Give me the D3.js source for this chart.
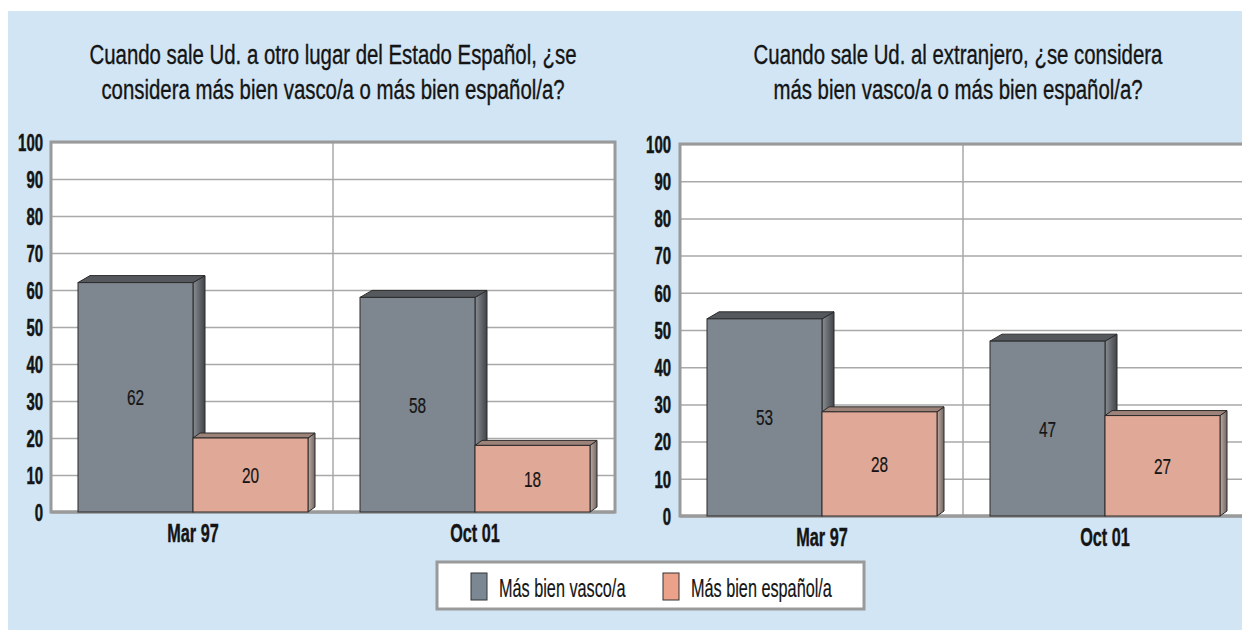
<!DOCTYPE html>
<html>
<head>
<meta charset="utf-8">
<script src="https://cdn.jsdelivr.net/npm/d3@7"></script>
<style>
  html, body { margin: 0; padding: 0; background: #ffffff; }
  svg { display: block; }
  text { font-family: "Liberation Sans", Arial, sans-serif; fill: #141414; }
</style>
</head>
<body>
<svg id="chart" width="1242" height="630"></svg>
<script>
// ---- data ----
const categories = ["Mar 97", "Oct 01"];
const seriesNames = ["Más bien vasco/a", "Más bien español/a"];
const chart1Title = ["Cuando sale Ud. a otro lugar del Estado Español, ¿se", "considera más bien vasco/a o más bien español/a?"];
const chart2Title = ["Cuando sale Ud. al extranjero, ¿se considera", "más bien vasco/a o más bien español/a?"];
const chart1Vasco = [62, 58];
const chart1Espanol = [20, 18];
const chart2Vasco = [53, 47];
const chart2Espanol = [28, 27];
const yTicks = [0, 10, 20, 30, 40, 50, 60, 70, 80, 90, 100];

// ---- styles ----
const colors = {
  front: ["#7e868f", "#dfa897"],
  sideA: ["#8a8f95", "#c2aca4"],
  sideB: ["#404347", "#6f6764"],
  top: ["#55595e", "#9c8279"],
  swatch: ["#7b8893", "#eca18b"]
};
const depth = [{dx: 12, dy: 7}, {dx: 7, dy: 5}];

const svg = d3.select("#chart");
const defs = svg.append("defs");
[0, 1].forEach(i => {
  const g = defs.append("linearGradient").attr("id", "side" + i)
    .attr("x1", "0").attr("x2", "1").attr("y1", "0").attr("y2", "0");
  g.append("stop").attr("offset", "0").attr("stop-color", colors.sideA[i]);
  g.append("stop").attr("offset", "1").attr("stop-color", colors.sideB[i]);
});

svg.append("rect").attr("x", 8).attr("y", 11).attr("width", 1234).attr("height", 619).attr("fill", "#d1e5f4");

function sText(parent, x, y, str, size, weight, anchor, sx, sw) {
  const g = parent.append("g").attr("transform", `translate(${x},${y})`);
  const t = g.append("text").attr("transform", `scale(${sx},1)`)
    .attr("text-anchor", anchor || "middle")
    .style("font-size", size + "px").style("font-weight", weight || "normal")
    .text(str);
  if (sw) t.attr("stroke", "#141414").attr("stroke-width", sw);
  return g;
}

function drawChart(cfg) {
  const g = svg.append("g");
  const x = d3.scaleBand().domain(categories).range([cfg.x0, cfg.x1]).paddingInner(0).paddingOuter(0);
  const inner = d3.scaleBand().domain(seriesNames).range([27, 257]).padding(0);
  const y = d3.scaleLinear().domain([0, 100]).range([cfg.yBottom, cfg.yTop]);

  // title
  cfg.title.forEach((line, i) => sText(g, cfg.titleX, 64 + i * 35, line, 27, "normal", "middle", 0.755, 0.35));

  // plot background
  g.append("rect").attr("x", cfg.x0).attr("y", y(100)).attr("width", cfg.x1 - cfg.x0)
    .attr("height", y(0) - y(100)).attr("fill", "#ffffff");

  // gridlines + tick labels via axis
  const TSX = 0.65;
  const ax = g.append("g").attr("transform", `translate(${cfg.x0},0)`)
    .call(d3.axisLeft(y).tickValues(yTicks).tickSizeInner(-(cfg.x1 - cfg.x0)).tickSizeOuter(0).tickPadding(0));
  ax.select(".domain").remove();
  ax.selectAll(".tick line").attr("stroke", "#a9a9a9").attr("stroke-width", 1.5);
  ax.selectAll(".tick text")
    .attr("x", -cfg.labelGap / TSX).attr("dy", "0.36em")
    .attr("transform", `scale(${TSX},1)`)
    .attr("stroke", "#141414").attr("stroke-width", 0.5)
    .style("font-size", "23px").style("font-weight", "bold").attr("fill", "#141414");

  // vertical divider between categories
  g.append("line").attr("x1", x(categories[1])).attr("x2", x(categories[1]))
    .attr("y1", y(100)).attr("y2", y(0)).attr("stroke", "#a9a9a9").attr("stroke-width", 1.5);

  // frame
  g.append("rect").attr("x", cfg.x0).attr("y", y(100)).attr("width", cfg.x1 - cfg.x0)
    .attr("height", y(0) - y(100)).attr("fill", "none").attr("stroke", "#9a9a9a").attr("stroke-width", 3);
  g.append("line").attr("x1", cfg.x0).attr("x2", cfg.x1).attr("y1", y(0)).attr("y2", y(0))
    .attr("stroke", "#9a9a9a").attr("stroke-width", 3);

  // bars
  const seriesVals = [cfg.vasco, cfg.espanol];
  categories.forEach((c, ci) => {
    seriesNames.forEach((s, si) => {
      const v = seriesVals[si][ci];
      const xl = x(c) + inner(s), xr = xl + inner.bandwidth();
      const yt = y(v), yb = y(0);
      const {dx, dy} = depth[si];
      const bg = g.append("g");
      bg.append("polygon")
        .attr("points", [[xr, yt], [xr + dx, yt - dy], [xr + dx, yb - dy], [xr, yb]].map(p => p.join(",")).join(" "))
        .attr("fill", `url(#side${si})`).attr("stroke", "#2b2b2b").attr("stroke-width", 1);
      bg.append("polygon")
        .attr("points", [[xl, yt], [xl + dx, yt - dy], [xr + dx, yt - dy], [xr, yt]].map(p => p.join(",")).join(" "))
        .attr("fill", colors.top[si]).attr("stroke", "#2b2b2b").attr("stroke-width", 1);
      bg.append("rect").attr("x", xl).attr("y", yt).attr("width", xr - xl).attr("height", yb - yt)
        .attr("fill", colors.front[si]).attr("stroke", "#2b2b2b").attr("stroke-width", 1);
      sText(bg, (xl + xr) / 2, (yt + yb) / 2 + 8, String(v), 22, "normal", "middle", 0.7, 0.2);
    });
  });

  // category labels
  categories.forEach(c => {
    sText(g, x(c) + inner.range()[0] + inner.bandwidth(), y(0) + 30, c, 25, "bold", "middle", 0.65, 0.4);
  });
}

drawChart({x0: 51, x1: 615, yTop: 142, yBottom: 512, labelGap: 8, titleX: 333,
  title: chart1Title, vasco: chart1Vasco, espanol: chart1Espanol});
drawChart({x0: 680, x1: 1246, yTop: 144, yBottom: 516, labelGap: 9, titleX: 958,
  title: chart2Title, vasco: chart2Vasco, espanol: chart2Espanol});

// legend
const lg = svg.append("g");
lg.append("rect").attr("x", 437).attr("y", 562).attr("width", 427).attr("height", 47)
  .attr("fill", "#ffffff").attr("stroke", "#9a9a9a").attr("stroke-width", 3);
const legendX = [471, 663];
seriesNames.forEach((s, i) => {
  lg.append("rect").attr("x", legendX[i]).attr("y", 573).attr("width", 16).attr("height", 27)
    .attr("fill", colors.swatch[i]).attr("stroke", "#333").attr("stroke-width", 1);
  sText(lg, legendX[i] + 28, 597, s, 25, "normal", "start", 0.65, 0.2);
});
</script>
</body>
</html>
